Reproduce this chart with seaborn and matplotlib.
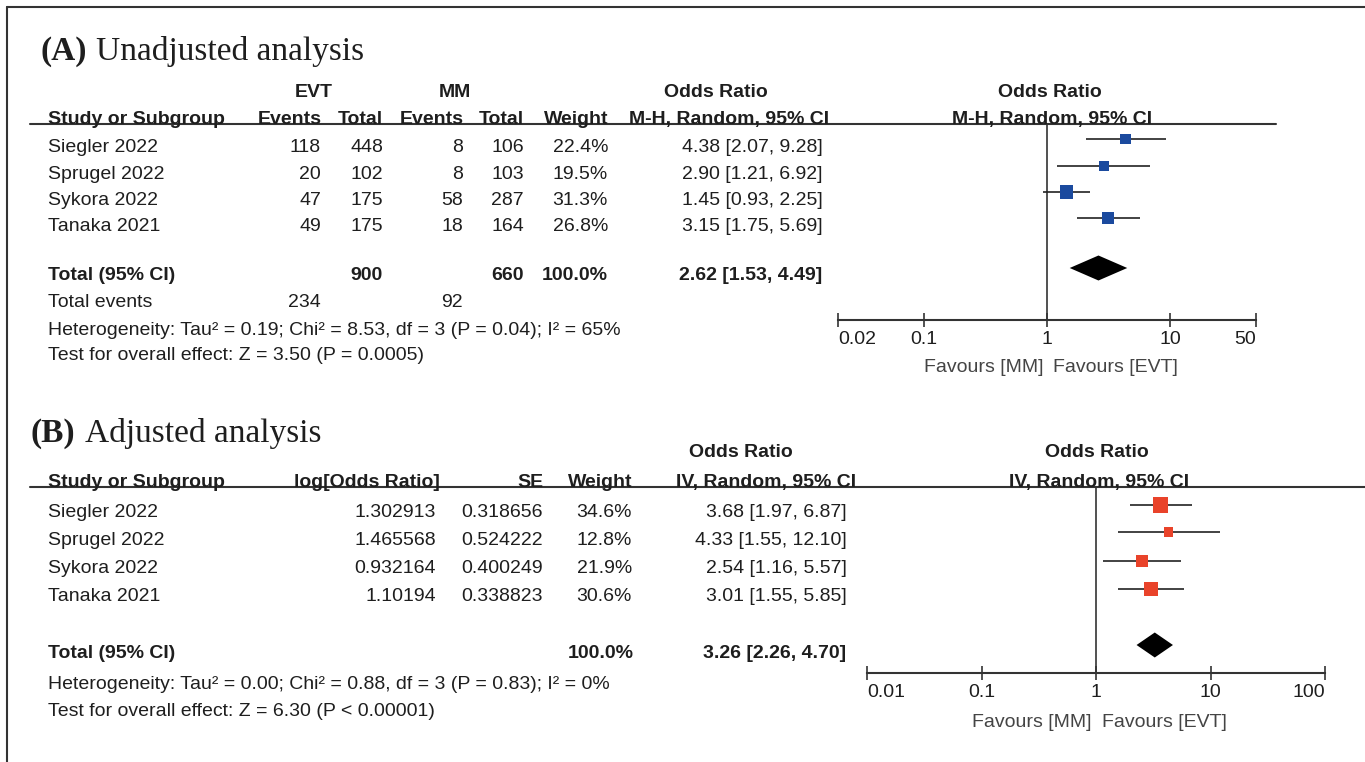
import matplotlib
matplotlib.use("Agg")
import matplotlib.pyplot as plt
import seaborn as sns
import pandas as pd

# ---------------- data ----------------
studies = ["Siegler 2022", "Sprugel 2022", "Sykora 2022", "Tanaka 2021"]

# (A) unadjusted, Mantel-Haenszel random effects
evt_events = [118, 20, 47, 49]
evt_total = [448, 102, 175, 175]
mm_events = [8, 8, 58, 18]
mm_total = [106, 103, 287, 164]
weight_a = [22.4, 19.5, 31.3, 26.8]
or_a = [4.38, 2.90, 1.45, 3.15]
lo_a = [2.07, 1.21, 0.93, 1.75]
hi_a = [9.28, 6.92, 2.25, 5.69]
pooled_a = [2.62, 1.53, 4.49]
sum_evt_total, sum_mm_total = 900, 660
sum_evt_events, sum_mm_events = 234, 92
het_a = "Heterogeneity: Tau² = 0.19; Chi² = 8.53, df = 3 (P = 0.04); I² = 65%"
test_a = "Test for overall effect: Z = 3.50 (P = 0.0005)"
ticks_a = [0.02, 0.1, 1, 10, 50]
ticklabels_a = ["0.02", "0.1", "1", "10", "50"]

# (B) adjusted, inverse variance random effects
log_or_b = ["1.302913", "1.465568", "0.932164", "1.10194"]
se_b = ["0.318656", "0.524222", "0.400249", "0.338823"]
weight_b = [34.6, 12.8, 21.9, 30.6]
or_b = [3.68, 4.33, 2.54, 3.01]
lo_b = [1.97, 1.55, 1.16, 1.55]
hi_b = [6.87, 12.10, 5.57, 5.85]
pooled_b = [3.26, 2.26, 4.70]
het_b = "Heterogeneity: Tau² = 0.00; Chi² = 0.88, df = 3 (P = 0.83); I² = 0%"
test_b = "Test for overall effect: Z = 6.30 (P < 0.00001)"
ticks_b = [0.01, 0.1, 1, 10, 100]
ticklabels_b = ["0.01", "0.1", "1", "10", "100"]

# ---------------- style ----------------
W, H = 1365, 762
sns.set_theme(style="white")
plt.rcParams["font.family"] = ["Liberation Sans", "DejaVu Sans"]
TXT = "#1e1e1e"
GREY = "#444444"
LINE = "#333333"
BLUE = "#1b4a9e"
RED = "#e9432a"
FS = 14

fig = plt.figure(figsize=(W / 100, H / 100), dpi=100)
bg = fig.add_axes([0, 0, 1, 1])
bg.set_xlim(0, W)
bg.set_ylim(H, 0)
bg.axis("off")


def put(x, yc, s, ha="right", bold=False, size=FS, color=TXT, family=None):
    kw = {}
    if family is not None:
        kw["family"] = family
    bg.text(x, yc + 7, s, ha=ha, va="baseline", fontsize=size,
            fontweight="bold" if bold else "normal", color=color, **kw)


def fmt_ci(e, l, h):
    return f"{e:.2f} [{l:.2f}, {h:.2f}]"


def forest_axes(x_lo, x_hi, y_top, y_axis, lim, ticks, labels):
    ax = fig.add_axes([x_lo / W, 1 - y_axis / H, (x_hi - x_lo) / W, (y_axis - y_top) / H])
    ax.set_xscale("log")
    ax.set_xlim(lim)
    ax.set_ylim(y_axis, y_top)
    ax.patch.set_alpha(0)
    for s in ["top", "left", "right"]:
        ax.spines[s].set_visible(False)
    ax.spines["bottom"].set_color(LINE)
    ax.spines["bottom"].set_linewidth(1.5)
    ax.set_yticks([])
    ax.minorticks_off()
    ax.set_xticks(ticks, labels=labels)
    ax.minorticks_off()
    ax.tick_params(axis="x", direction="inout", length=10, width=1.2, pad=3,
                   labelsize=FS, colors=LINE, labelcolor=TXT, bottom=True)
    tl = ax.get_xticklabels()
    tl[0].set_ha("left")
    tl[-1].set_ha("right")
    ax.axvline(1, color=LINE, lw=1.2, zorder=1)
    return ax


def draw_forest(ax, est, lo, hi, weight, rows, pooled, pooled_row, color, k):
    df = pd.DataFrame({"est": est, "lo": lo, "hi": hi, "weight": weight, "row": rows})
    ax.hlines(df["row"], df["lo"], df["hi"], color="#222222", lw=1.2, zorder=2)
    sns.scatterplot(data=df, x="est", y="row", size="weight", sizes=(0, k * 100),
                    size_norm=(0, 100), marker="s", color=color, edgecolor="none",
                    legend=False, ax=ax, zorder=3)
    e, l, h = pooled
    ax.fill([l, e, h, e], [pooled_row, pooled_row - 12.5, pooled_row, pooled_row + 12.5],
            color="black", zorder=3, lw=0)
    ax.set_xlabel("")
    ax.set_ylabel("")


# frame
bg.plot([7, W], [7, 7], color=LINE, lw=1.5)
bg.plot([7, 7], [7, H], color=LINE, lw=1.5)

# ================= (A) =================
bg.text(40, 60, "(A)", ha="left", va="baseline", fontsize=24, fontweight="bold",
        family="Liberation Serif", color=TXT)
bg.text(96, 60, "Unadjusted analysis", ha="left", va="baseline", fontsize=24,
        family="Liberation Serif", color=TXT)

put(314, 90, "EVT", ha="center", bold=True)
put(455, 90, "MM", ha="center", bold=True)
put(716, 90, "Odds Ratio", ha="center", bold=True)
put(1050, 90, "Odds Ratio", ha="center", bold=True)

put(48, 117, "Study or Subgroup", ha="left", bold=True)
put(322, 117, "Events", bold=True)
put(383, 117, "Total", bold=True)
put(464, 117, "Events", bold=True)
put(524, 117, "Total", bold=True)
put(608, 117, "Weight", bold=True)
put(829, 117, "M-H, Random, 95% CI", bold=True)
put(1052, 117, "M-H, Random, 95% CI", ha="center", bold=True)
bg.plot([30, 1276], [124, 124], color=LINE, lw=1.5)

text_rows_a = [145, 172, 198, 224]
mark_rows_a = [139, 166, 192, 218]
for i, s in enumerate(studies):
    y = text_rows_a[i]
    put(48, y, s, ha="left")
    put(321, y, str(evt_events[i]))
    put(383, y, str(evt_total[i]))
    put(463, y, str(mm_events[i]))
    put(524, y, str(mm_total[i]))
    put(608, y, f"{weight_a[i]:.1f}%")
    put(823, y, fmt_ci(or_a[i], lo_a[i], hi_a[i]))

put(48, 273, "Total (95% CI)", ha="left", bold=True)
put(383, 273, str(sum_evt_total), bold=True)
put(524, 273, str(sum_mm_total), bold=True)
put(608, 273, "100.0%", bold=True)
put(822, 273, fmt_ci(*pooled_a), bold=True)
put(48, 300, "Total events", ha="left")
put(321, 300, str(sum_evt_events))
put(463, 300, str(sum_mm_events))
put(48, 328, het_a, ha="left")
put(48, 353, test_a, ha="left")

ax_a = forest_axes(838, 1256, 124, 320, (0.02, 50), ticks_a, ticklabels_a)
draw_forest(ax_a, or_a, lo_a, hi_a, weight_a, mark_rows_a, pooled_a, 268, BLUE, 2.8)
put(1043, 365, "Favours [MM]", color=GREY)
put(1053, 365, "Favours [EVT]", ha="left", color=GREY)

# ================= (B) =================
bg.text(30, 442, "(B)", ha="left", va="baseline", fontsize=24, fontweight="bold",
        family="Liberation Serif", color=TXT)
bg.text(85, 442, "Adjusted analysis", ha="left", va="baseline", fontsize=24,
        family="Liberation Serif", color=TXT)

put(741, 450, "Odds Ratio", ha="center", bold=True)
put(1097, 450, "Odds Ratio", ha="center", bold=True)
put(48, 480, "Study or Subgroup", ha="left", bold=True)
put(440, 480, "log[Odds Ratio]", bold=True)
put(543, 480, "SE", bold=True)
put(632, 480, "Weight", bold=True)
put(856, 480, "IV, Random, 95% CI", bold=True)
put(1099, 480, "IV, Random, 95% CI", ha="center", bold=True)
bg.plot([30, W], [487, 487], color=LINE, lw=1.5)

text_rows_b = [510, 538, 566, 594]
mark_rows_b = [505, 532, 561, 589]
for i, s in enumerate(studies):
    y = text_rows_b[i]
    put(48, y, s, ha="left")
    put(436, y, log_or_b[i])
    put(543, y, se_b[i])
    put(632, y, f"{weight_b[i]:.1f}%")
    put(847, y, fmt_ci(or_b[i], lo_b[i], hi_b[i]))

put(48, 651, "Total (95% CI)", ha="left", bold=True)
put(634, 651, "100.0%", bold=True)
put(846, 651, fmt_ci(*pooled_b), bold=True)
put(48, 682, het_b, ha="left")
put(48, 709, test_b, ha="left")

ax_b = forest_axes(867, 1325, 487, 673, (0.01, 100), ticks_b, ticklabels_b)
draw_forest(ax_b, or_b, lo_b, hi_b, weight_b, mark_rows_b, pooled_b, 645, RED, 3.4)
put(1092, 720, "Favours [MM]", color=GREY)
put(1102, 720, "Favours [EVT]", ha="left", color=GREY)

fig.savefig("out.png", dpi=100)
